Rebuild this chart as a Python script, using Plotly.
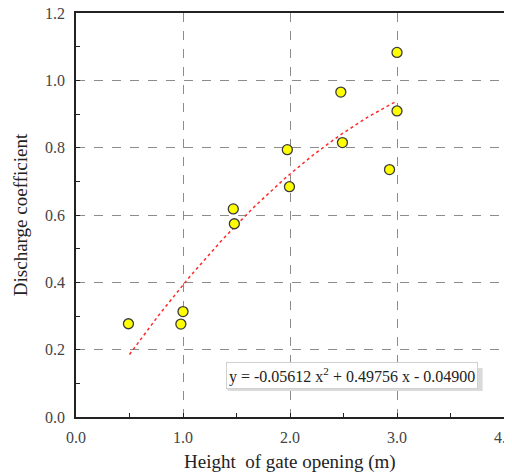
import plotly.graph_objects as go
import numpy as np

# Data
gate_height = [0.49, 0.98, 1.0, 1.47, 1.48, 1.975, 1.995, 2.475, 2.49, 2.93, 3.0, 3.0]
discharge_coef = [0.277, 0.276, 0.313, 0.618, 0.574, 0.794, 0.684, 0.965, 0.815, 0.735, 1.083, 0.909]

# Trendline coefficients (as printed on the chart): a*x^2 + b*x + c
fit_coeffs = [-0.05612, 0.49756, -0.04900]
fit_range = [0.5, 3.0]

x_ticks = [0.0, 1.0, 2.0, 3.0, 4.0]
x_tick_labels = ["0.0", "1.0", "2.0", "3.0", "4.0"]
y_ticks = [0.0, 0.2, 0.4, 0.6, 0.8, 1.0, 1.2]
y_tick_labels = ["0.0", "0.2", "0.4", "0.6", "0.8", "1.0", "1.2"]

x_title = "Height  of gate opening (m)"
y_title = "Discharge coefficient"
eq_text = "y = -0.05612 x<sup>2</sup> + 0.49756 x - 0.04900"
eq_pos = (2.576, 0.122)

xf = np.linspace(fit_range[0], fit_range[1], 60)
yf = np.polyval(fit_coeffs, xf)

FONT = "Liberation Serif, Times New Roman, serif"

fig = go.Figure()
fig.add_trace(go.Scatter(
    x=xf, y=yf, mode="lines",
    line=dict(color="#FF2A2A", width=1.5, dash="dot"),
    hoverinfo="skip", showlegend=False,
))
fig.add_trace(go.Scatter(
    x=gate_height, y=discharge_coef, mode="markers",
    marker=dict(size=10, color="#FFFF00", line=dict(color="#3a3a3a", width=1.3)),
    showlegend=False,
))

axis_common = dict(
    showline=True, linecolor="#222222", linewidth=1.5, mirror=True,
    showgrid=True, gridcolor="#8c8c8c", griddash="dash", gridwidth=1,
    zeroline=False, ticks="inside", ticklen=4, tickcolor="#222222",
    tickfont=dict(family=FONT, size=16, color="#444444"),
    ticklabeloverflow="allow",
    automargin=False,
)

fig.update_layout(
    width=504, height=468,
    margin=dict(l=68, r=8, t=5, b=59),
    paper_bgcolor="white", plot_bgcolor="white",
    font=dict(family=FONT),
    xaxis=dict(
        range=[0, 4], tickvals=x_ticks, ticktext=x_tick_labels,
        minor=dict(dtick=0.5, ticks="inside", ticklen=4, tickcolor="#222222", showgrid=False),
        ticklabelstandoff=5,
        **axis_common,
    ),
    yaxis=dict(
        range=[0, 1.2], tickvals=y_ticks, ticktext=y_tick_labels,
        minor=dict(dtick=0.1, ticks="inside", ticklen=4, tickcolor="#222222", showgrid=False),
        title=dict(text=y_title, font=dict(family=FONT, size=19, color="#222222"), standoff=12),
        ticklabelstandoff=6,
        **axis_common,
    ),
)

# x-axis title placed below the tick labels
fig.add_annotation(
    x=0.5, y=0, xref="paper", yref="paper", text=x_title, showarrow=False,
    xanchor="center", yanchor="middle", yshift=-45,
    font=dict(family=FONT, size=19, color="#222222"),
)

# shadow of the equation box (pixel-sized rectangle anchored at the label position)
fig.add_shape(
    type="rect", xref="x", yref="y", xsizemode="pixel", ysizemode="pixel",
    xanchor=eq_pos[0], yanchor=eq_pos[1],
    x0=-124, x1=131, y0=-15, y1=8,
    fillcolor="#dadada", line=dict(width=0), layer="above",
)
fig.add_annotation(
    x=eq_pos[0], y=eq_pos[1], xref="x", yref="y", text=eq_text, showarrow=False,
    font=dict(family=FONT, size=16, color="#222222"),
    bgcolor="white", bordercolor="#d0d0d0", borderwidth=1, borderpad=2,
)

fig.write_html("out.html")
